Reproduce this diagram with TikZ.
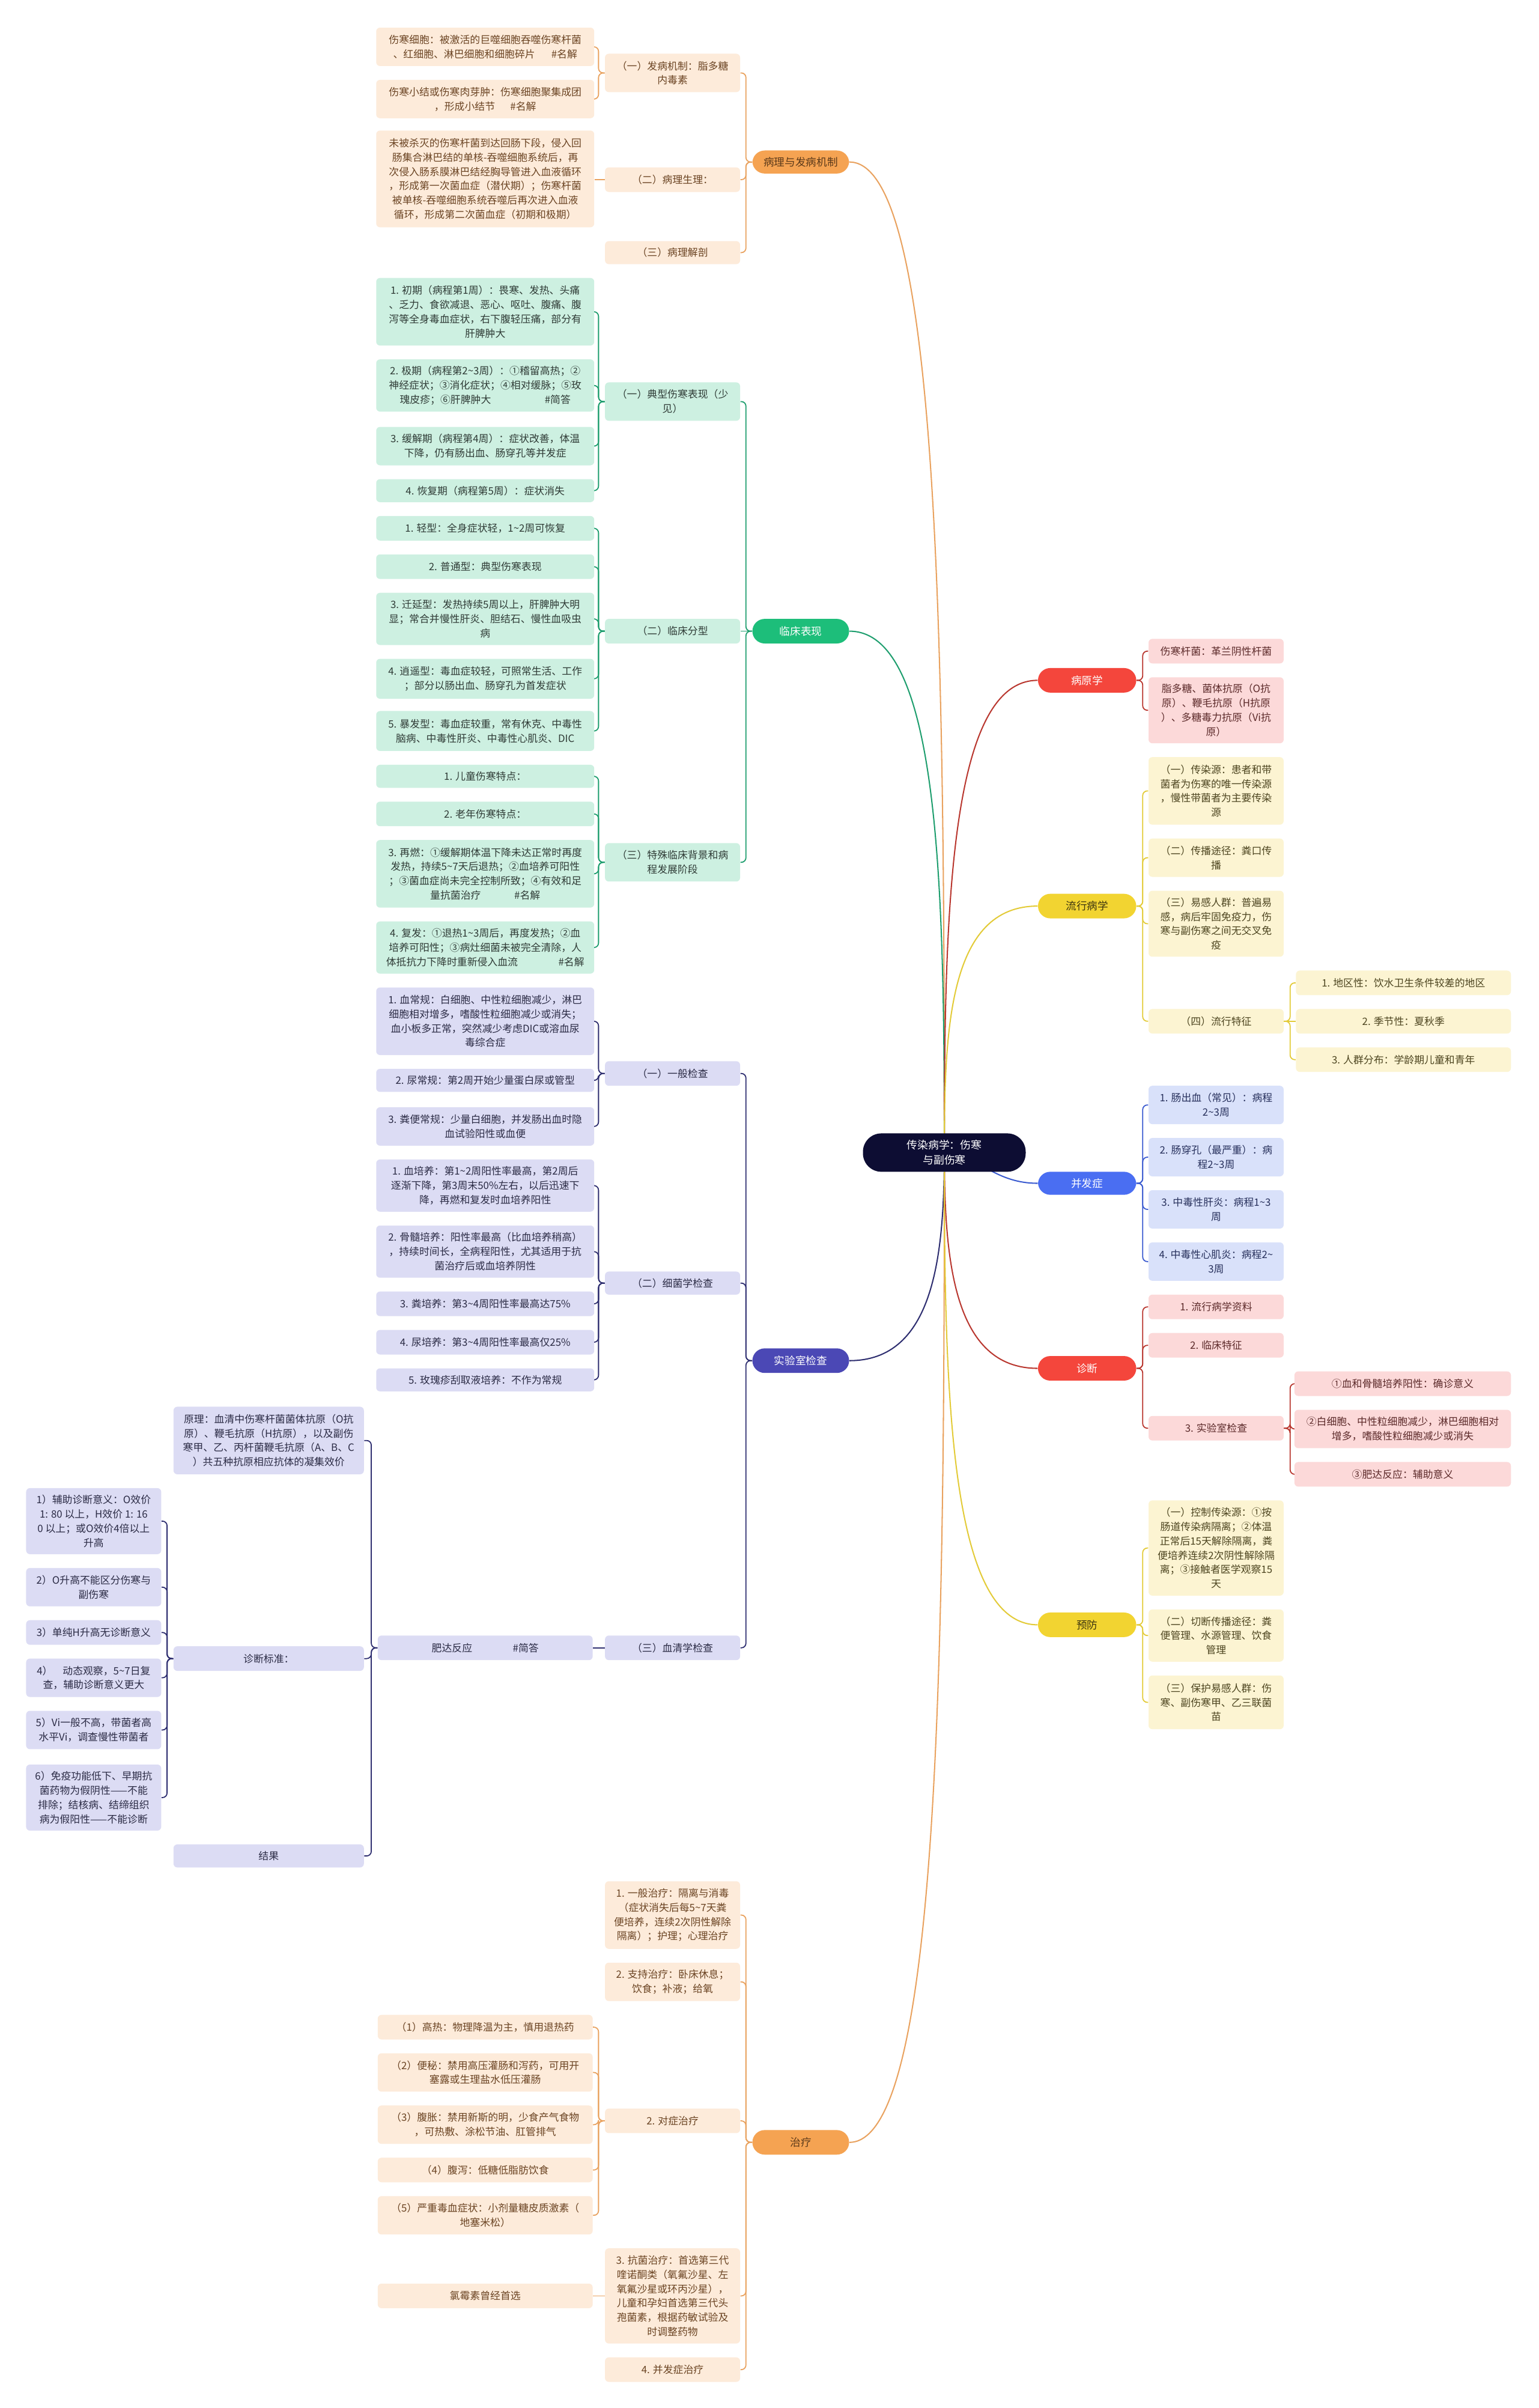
\documentclass[tikz,border=0pt]{standalone}
\usepackage{fontspec}
\setmainfont{Noto Sans CJK SC}
\usetikzlibrary{calc}
\pgfdeclarelayer{bg}
\pgfsetlayers{bg,main}
\definecolor{rootF}{HTML}{0D0D33}
\definecolor{orP}{HTML}{F5A352}\definecolor{orL}{HTML}{FDEBDA}\definecolor{orT}{HTML}{6B4423}\definecolor{orC}{HTML}{E9A25F}\definecolor{orPT}{HTML}{5C3A1A}
\definecolor{grP}{HTML}{1DBE7A}\definecolor{grL}{HTML}{CDF0E1}\definecolor{grT}{HTML}{2F3B36}\definecolor{grC}{HTML}{1E9E6E}
\definecolor{inP}{HTML}{4B48B5}\definecolor{inL}{HTML}{DCDCF4}\definecolor{inT}{HTML}{2B2B45}\definecolor{inC}{HTML}{2E2E70}
\definecolor{rdP}{HTML}{F4463C}\definecolor{rdL}{HTML}{FCD9D9}\definecolor{rdT}{HTML}{5C2A2A}\definecolor{rdC}{HTML}{B9372F}
\definecolor{ylP}{HTML}{F2D431}\definecolor{ylL}{HTML}{FCF4D2}\definecolor{ylT}{HTML}{4D4520}\definecolor{ylC}{HTML}{E3CB38}\definecolor{ylPT}{HTML}{3D3510}
\definecolor{blP}{HTML}{4A6EF2}\definecolor{blL}{HTML}{D9E1FA}\definecolor{blT}{HTML}{27305C}\definecolor{blC}{HTML}{3B5BD0}
\newcommand\tld{\textasciitilde}
\tikzset{
 box/.style={inner sep=0pt, align=center, rounded corners=2.5pt, font=\fontsize{6.6}{9.3}\selectfont},
 pill/.style={inner sep=0pt, align=center, rounded corners=8pt, font=\fontsize{6.9}{9.3}\selectfont},
 orB/.style={box, fill=orL, text=orT}, grB/.style={box, fill=grL, text=grT},
 inB/.style={box, fill=inL, text=inT}, rdB/.style={box, fill=rdL, text=rdT},
 ylB/.style={box, fill=ylL, text=ylT}, blB/.style={box, fill=blL, text=blT},
 orM/.style={pill, fill=orP, text=orPT}, grM/.style={pill, fill=grP, text=white},
 inM/.style={pill, fill=inP, text=white}, rdM/.style={pill, fill=rdP, text=white},
 ylM/.style={pill, fill=ylP, text=ylPT}, blM/.style={pill, fill=blP, text=white},
 rootM/.style={pill, rounded corners=12pt, fill=rootF, text=white, font=\fontsize{7}{9.6}\selectfont},
 cn/.style={line width=0.7pt, rounded corners=3pt},
 sn/.style={line width=0.7pt},
}
\newcommand\bx[7]{\node[#6, minimum width={(#4-#2)*1pt}, minimum height={(#5-#3)*1pt}] (#1) at ({(#2+#4)/2},{(#3+#5)/2}) {#7};}
\newcommand\lc[3]{\draw[cn,#1] (#2.west) -- ++(-4,0) |- (#3.east);}
\newcommand\rc[3]{\draw[cn,#1] (#2.east) -- ++(4,0) |- (#3.west);}
\newcommand\ls[3]{\draw[sn,#1] (#2.west) -- (#3.east |- #2.west);}
\newcommand\rs[3]{\draw[sn,#1] (#2.east) -- (#3.west |- #2.east);}
\begin{document}
\begin{tikzpicture}[x=1pt,y=-1pt]
\useasboundingbox (0,0) rectangle (1002,1568);
% root
\bx{R}{562}{738}{668}{763}{rootM}{传染病学：伤寒\\与副伤寒}
% ---------- 病理与发病机制
\bx{P1}{490}{98}{553}{113}{orM}{病理与发病机制}
\bx{a1}{394}{35}{482}{60}{orB}{（一）发病机制：脂多糖\\内毒素}
\bx{a1a}{245}{18}{387}{43}{orB}{伤寒细胞：被激活的巨噬细胞吞噬伤寒杆菌\\、红细胞、淋巴细胞和细胞碎片\hspace{1.6em}\#名解}
\bx{a1b}{245}{52}{387}{77}{orB}{伤寒小结或伤寒肉芽肿：伤寒细胞聚集成团\\，形成小结节\hspace{1.5em}\#名解}
\bx{a2}{394}{109}{482}{125}{orB}{（二）病理生理：}
\bx{a2a}{245}{85}{387}{148}{orB}{未被杀灭的伤寒杆菌到达回肠下段，侵入回\\肠集合淋巴结的单核-吞噬细胞系统后，再\\次侵入肠系膜淋巴结经胸导管进入血液循环\\，形成第一次菌血症（潜伏期）；伤寒杆菌\\被单核-吞噬细胞系统吞噬后再次进入血液\\循环，形成第二次菌血症（初期和极期）}
\bx{a3}{394}{157}{482}{172}{orB}{（三）病理解剖}
% ---------- 临床表现
\bx{P2}{490}{403}{553}{419}{grM}{临床表现}
\bx{b1}{394}{249}{482}{274}{grB}{（一）典型伤寒表现（少\\见）}
\bx{b1a}{245}{181}{387}{225}{grB}{1. 初期（病程第1周）：畏寒、发热、头痛\\、乏力、食欲减退、恶心、呕吐、腹痛、腹\\泻等全身毒血症状，右下腹轻压痛，部分有\\肝脾肿大}
\bx{b1b}{245}{234}{387}{268}{grB}{2. 极期（病程第2\tld 3周）：①稽留高热；②\\神经症状；③消化症状；④相对缓脉；⑤玫\\瑰皮疹；⑥肝脾肿大\hspace{5.3em}\#简答}
\bx{b1c}{245}{278}{387}{303}{grB}{3. 缓解期（病程第4周）：症状改善，体温\\下降，仍有肠出血、肠穿孔等并发症}
\bx{b1d}{245}{312}{387}{327}{grB}{4. 恢复期（病程第5周）：症状消失}
\bx{b2}{394}{403}{482}{419}{grB}{（二）临床分型}
\bx{b2a}{245}{336}{387}{352}{grB}{1. 轻型：全身症状轻，1\tld 2周可恢复}
\bx{b2b}{245}{361}{387}{377}{grB}{2. 普通型：典型伤寒表现}
\bx{b2c}{245}{386}{387}{420}{grB}{3. 迁延型：发热持续5周以上，肝脾肿大明\\显；常合并慢性肝炎、胆结石、慢性血吸虫\\病}
\bx{b2d}{245}{429}{387}{455}{grB}{4. 逍遥型：毒血症较轻，可照常生活、工作\\；部分以肠出血、肠穿孔为首发症状}
\bx{b2e}{245}{463}{387}{489}{grB}{5. 暴发型：毒血症较重，常有休克、中毒性\\脑病、中毒性肝炎、中毒性心肌炎、DIC}
\bx{b3}{394}{549}{482}{574}{grB}{（三）特殊临床背景和病\\程发展阶段}
\bx{b3a}{245}{498}{387}{513}{grB}{1. 儿童伤寒特点：}
\bx{b3b}{245}{522}{387}{538}{grB}{2. 老年伤寒特点：}
\bx{b3c}{245}{547}{387}{591}{grB}{3. 再燃：①缓解期体温下降未达正常时再度\\发热，持续5\tld 7天后退热；②血培养可阳性\\；③菌血症尚未完全控制所致；④有效和足\\量抗菌治疗\hspace{3.3em}\#名解}
\bx{b3d}{245}{600}{387}{634}{grB}{4. 复发：①退热1\tld 3周后，再度发热；②血\\培养可阳性；③病灶细菌未被完全清除，人\\体抵抗力下降时重新侵入血流\hspace{4em}\#名解}
% ---------- 实验室检查
\bx{P3}{490}{878}{553}{894}{inM}{实验室检查}
\bx{c1}{394}{691}{482}{707}{inB}{（一）一般检查}
\bx{c1a}{245}{643}{387}{687}{inB}{1. 血常规：白细胞、中性粒细胞减少，淋巴\\细胞相对增多，嗜酸性粒细胞减少或消失；\\血小板多正常，突然减少考虑DIC或溶血尿\\毒综合症}
\bx{c1b}{245}{696}{387}{711}{inB}{2. 尿常规：第2周开始少量蛋白尿或管型}
\bx{c1c}{245}{721}{387}{746}{inB}{3. 粪便常规：少量白细胞，并发肠出血时隐\\血试验阳性或血便}
\bx{c2}{394}{828}{482}{843}{inB}{（二）细菌学检查}
\bx{c2a}{245}{755}{387}{789}{inB}{1. 血培养：第1\tld 2周阳性率最高，第2周后\\逐渐下降，第3周末50\%左右，以后迅速下\\降，再燃和复发时血培养阳性}
\bx{c2b}{245}{798}{387}{832}{inB}{2. 骨髓培养：阳性率最高（比血培养稍高）\\，持续时间长，全病程阳性，尤其适用于抗\\菌治疗后或血培养阴性}
\bx{c2c}{245}{841}{387}{857}{inB}{3. 粪培养：第3\tld 4周阳性率最高达75\%}
\bx{c2d}{245}{866}{387}{882}{inB}{4. 尿培养：第3\tld 4周阳性率最高仅25\%}
\bx{c2e}{245}{891}{387}{906}{inB}{5. 玫瑰疹刮取液培养：不作为常规}
\bx{c3}{394}{1065}{482}{1081}{inB}{（三）血清学检查}
\bx{c3a}{246}{1065}{386}{1081}{inB}{肥达反应\hspace{4em}\#简答}
\bx{c3a1}{113}{916}{237}{960}{inB}{原理：血清中伤寒杆菌菌体抗原（O抗\\原）、鞭毛抗原（H抗原），以及副伤\\寒甲、乙、丙杆菌鞭毛抗原（A、B、C\\）共五种抗原相应抗体的凝集效价}
\bx{c3a2}{113}{1072}{237}{1088}{inB}{诊断标准：}
\bx{c3a3}{113}{1201}{237}{1216}{inB}{结果}
\bx{d1}{17}{969}{105}{1012}{inB}{1）辅助诊断意义：O效价\\ 1: 80 以上，H效价 1: 16\\0 以上；或O效价4倍以上\\升高}
\bx{d2}{17}{1021}{105}{1046}{inB}{2）O升高不能区分伤寒与\\副伤寒}
\bx{d3}{17}{1055}{105}{1071}{inB}{3）单纯H升高无诊断意义}
\bx{d4}{17}{1080}{105}{1105}{inB}{4）\quad 动态观察，5\tld 7日复\\查，辅助诊断意义更大}
\bx{d5}{17}{1114}{105}{1139}{inB}{5）Vi一般不高，带菌者高\\水平Vi，调查慢性带菌者}
\bx{d6}{17}{1149}{105}{1192}{inB}{6）免疫功能低下、早期抗\\菌药物为假阴性——不能\\排除；结核病、结缔组织\\病为假阳性——不能诊断}
% ---------- 治疗
\bx{P4}{490}{1387}{553}{1403}{orM}{治疗}
\bx{e1}{394}{1225}{482}{1269}{orB}{1. 一般治疗：隔离与消毒\\（症状消失后每5\tld 7天粪\\便培养，连续2次阴性解除\\隔离）；护理；心理治疗}
\bx{e2}{394}{1278}{482}{1303}{orB}{2. 支持治疗：卧床休息；\\饮食；补液；给氧}
\bx{e3}{394}{1373}{482}{1389}{orB}{2. 对症治疗}
\bx{e3a}{246}{1312}{386}{1328}{orB}{（1）高热：物理降温为主，慎用退热药}
\bx{e3b}{246}{1337}{386}{1362}{orB}{（2）便秘：禁用高压灌肠和泻药，可用开\\塞露或生理盐水低压灌肠}
\bx{e3c}{246}{1371}{386}{1396}{orB}{（3）腹胀：禁用新斯的明，少食产气食物\\，可热敷、涂松节油、肛管排气}
\bx{e3d}{246}{1405}{386}{1421}{orB}{（4）腹泻：低糖低脂肪饮食}
\bx{e3e}{246}{1430}{386}{1455}{orB}{（5）严重毒血症状：小剂量糖皮质激素（\\地塞米松）}
\bx{e4}{394}{1464}{482}{1526}{orB}{3. 抗菌治疗：首选第三代\\喹诺酮类（氧氟沙星、左\\氧氟沙星或环丙沙星），\\儿童和孕妇首选第三代头\\孢菌素，根据药敏试验及\\时调整药物}
\bx{e4a}{246}{1487}{386}{1503}{orB}{氯霉素曾经首选}
\bx{e5}{394}{1535}{482}{1551}{orB}{4. 并发症治疗}
% ---------- 病原学
\bx{Q1}{676}{435}{740}{451}{rdM}{病原学}
\bx{f1}{748}{416}{836}{432}{rdB}{伤寒杆菌：革兰阴性杆菌}
\bx{f2}{748}{441}{836}{484}{rdB}{脂多糖、菌体抗原（O抗\\原）、鞭毛抗原（H抗原\\）、多糖毒力抗原（Vi抗\\原）}
% ---------- 流行病学
\bx{Q2}{676}{582}{740}{598}{ylM}{流行病学}
\bx{g1}{748}{493}{836}{537}{ylB}{（一）传染源：患者和带\\菌者为伤寒的唯一传染源\\，慢性带菌者为主要传染\\源}
\bx{g2}{748}{546}{836}{571}{ylB}{（二）传播途径：粪口传\\播}
\bx{g3}{748}{580}{836}{623}{ylB}{（三）易感人群：普遍易\\感，病后牢固免疫力，伤\\寒与副伤寒之间无交叉免\\疫}
\bx{g4}{748}{657}{836}{673}{ylB}{（四）流行特征}
\bx{g4a}{844}{632}{984}{648}{ylB}{1. 地区性：饮水卫生条件较差的地区}
\bx{g4b}{844}{657}{984}{673}{ylB}{2. 季节性：夏秋季}
\bx{g4c}{844}{682}{984}{698}{ylB}{3. 人群分布：学龄期儿童和青年}
% ---------- 并发症
\bx{Q3}{676}{763}{740}{778}{blM}{并发症}
\bx{h1}{748}{707}{836}{732}{blB}{1. 肠出血（常见）：病程\\2\tld 3周}
\bx{h2}{748}{741}{836}{766}{blB}{2. 肠穿孔（最严重）：病\\程2\tld 3周}
\bx{h3}{748}{775}{836}{800}{blB}{3. 中毒性肝炎：病程1\tld 3\\周}
\bx{h4}{748}{809}{836}{834}{blB}{4. 中毒性心肌炎：病程2\tld\\3周}
% ---------- 诊断
\bx{Q4}{676}{883}{740}{899}{rdM}{诊断}
\bx{i1}{748}{843}{836}{859}{rdB}{1. 流行病学资料}
\bx{i2}{748}{868}{836}{884}{rdB}{2. 临床特征}
\bx{i3}{748}{922}{836}{938}{rdB}{3. 实验室检查}
\bx{i3a}{843}{893}{984}{909}{rdB}{①血和骨髓培养阳性：确诊意义}
\bx{i3b}{843}{918}{984}{943}{rdB}{②白细胞、中性粒细胞减少，淋巴细胞相对\\增多，嗜酸性粒细胞减少或消失}
\bx{i3c}{843}{952}{984}{968}{rdB}{③肥达反应：辅助意义}
% ---------- 预防
\bx{Q5}{676}{1050}{740}{1066}{ylM}{预防}
\bx{j1}{748}{977}{836}{1039}{ylB}{（一）控制传染源：①按\\肠道传染病隔离；②体温\\正常后15天解除隔离，粪\\便培养连续2次阴性解除隔\\离；③接触者医学观察15\\天}
\bx{j2}{748}{1048}{836}{1082}{ylB}{（二）切断传播途径：粪\\便管理、水源管理、饮食\\管理}
\bx{j3}{748}{1091}{836}{1126}{ylB}{（三）保护易感人群：伤\\寒、副伤寒甲、乙三联菌\\苗}
% ---------- connectors
\begin{pgfonlayer}{bg}
\fill[white] (0,0) rectangle (1002,1568);
\coordinate (RC) at (615,750);
\draw[line width=0.8pt,orC] (P1.east) .. controls +(59,0) and +(0,-322) .. (RC);
\draw[line width=0.8pt,grC] (P2.east) .. controls +(59,0) and +(0,-170) .. (RC);
\draw[line width=0.8pt,inC] (P3.east) .. controls +(55,0) and +(0,68) .. (RC);
\draw[line width=0.8pt,orC] (P4.east) .. controls +(59,0) and +(0,322) .. (RC);
\draw[line width=0.8pt,rdC] (Q1.west) .. controls +(-58,0) and +(0,-153) .. (RC);
\draw[line width=0.8pt,ylC] (Q2.west) .. controls +(-58,0) and +(0,-80) .. (RC);
\draw[line width=0.8pt,blC] (Q3.west) .. controls +(-30,0) and +(20,0) .. (RC);
\draw[line width=0.8pt,rdC] (Q4.west) .. controls +(-55,0) and +(0,70) .. (RC);
\draw[line width=0.8pt,ylC] (Q5.west) .. controls +(-58,0) and +(0,154) .. (RC);
\foreach \c in {a1,a2,a3} {\lc{orC}{P1}{\c}}
\foreach \c in {a1a,a1b} {\lc{orC}{a1}{\c}}
\ls{orC}{a2}{a2a}
\foreach \c in {b1,b3} {\lc{grC}{P2}{\c}}
\ls{grC}{P2}{b2}
\foreach \c in {b1a,b1b,b1c,b1d} {\lc{grC}{b1}{\c}}
\foreach \c in {b2a,b2b,b2c,b2d,b2e} {\lc{grC}{b2}{\c}}
\foreach \c in {b3a,b3b,b3c,b3d} {\lc{grC}{b3}{\c}}
\foreach \c in {c1,c2,c3} {\lc{inC}{P3}{\c}}
\foreach \c in {c1a,c1b,c1c} {\lc{inC}{c1}{\c}}
\foreach \c in {c2a,c2b,c2c,c2d,c2e} {\lc{inC}{c2}{\c}}
\ls{inC}{c3}{c3a}
\foreach \c in {c3a1,c3a2,c3a3} {\lc{inC}{c3a}{\c}}
\foreach \c in {d1,d2,d3,d4,d5,d6} {\lc{inC}{c3a2}{\c}}
\foreach \c in {e1,e2,e3,e4,e5} {\lc{orC}{P4}{\c}}
\foreach \c in {e3a,e3b,e3c,e3d,e3e} {\lc{orC}{e3}{\c}}
\ls{orC}{e4}{e4a}
\foreach \c in {f1,f2} {\rc{rdC}{Q1}{\c}}
\foreach \c in {g1,g2,g3,g4} {\rc{ylC}{Q2}{\c}}
\foreach \c in {g4a,g4c} {\rc{ylC}{g4}{\c}}
\rs{ylC}{g4}{g4b}
\foreach \c in {h1,h2,h3,h4} {\rc{blC}{Q3}{\c}}
\foreach \c in {i1,i2,i3} {\rc{rdC}{Q4}{\c}}
\foreach \c in {i3a,i3b,i3c} {\rc{rdC}{i3}{\c}}
\foreach \c in {j1,j2,j3} {\rc{ylC}{Q5}{\c}}
\end{pgfonlayer}
\end{tikzpicture}
\end{document}
